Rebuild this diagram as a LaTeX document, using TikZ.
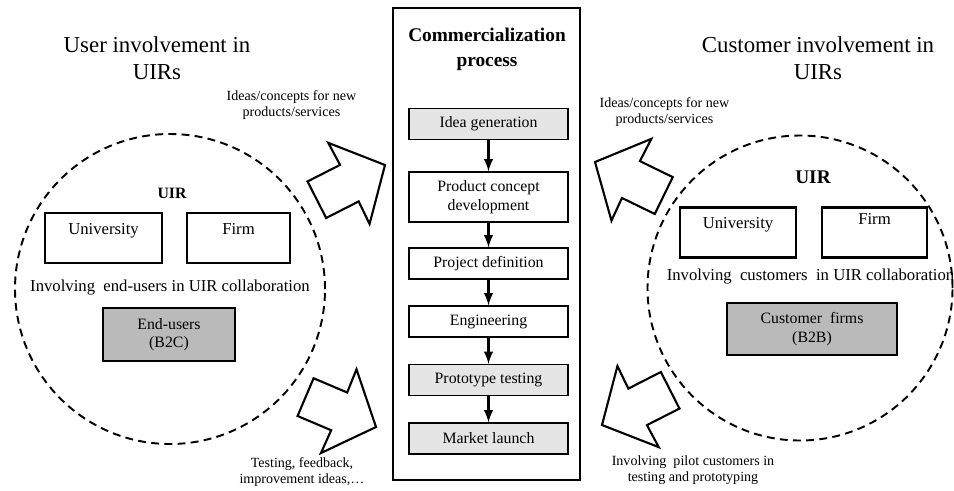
\documentclass[tikz,border=0pt]{standalone}
\usepackage{fontspec}
\setmainfont{Liberation Serif}

\tikzset{
  bigarrow/.pic={
    \draw[line width=1.2pt,line join=miter,fill=white]
      (0,0) -- (-0.81,0.91) -- (-0.8,0.41) -- (-1.53,0.41)
      -- (-1.53,-0.41) -- (-0.8,-0.41) -- (-0.81,-0.91) -- cycle;
  }
}

\begin{document}
\begin{tikzpicture}[
    stepbox/.style={draw,line width=0.6pt,minimum width=3.18cm,minimum height=0.62cm,
      align=center,font=\fontsize{9}{11}\selectfont},
    partner/.style={draw,line width=1.6pt,minimum height=1cm,inner sep=0.1cm,
      text height=0.32cm,text depth=0.48cm,font=\fontsize{9.5}{11}\selectfont},
    usergroup/.style={draw,line width=1.6pt,fill=black!27,align=center,
      font=\fontsize{9}{10.5}\selectfont},
    side/.style={align=center,font=\fontsize{13}{15.4}\selectfont},
    flow/.style={align=center,font=\fontsize{8}{9.2}\selectfont},
    uir/.style={line width=1.1pt,dash pattern=on 4.5pt off 3pt}
  ]
  \useasboundingbox (0,0) rectangle (19.08,9.8);

  % commercialization process
  \node[draw,line width=1.6pt,minimum width=3.74cm,minimum height=9.44cm] (proc) at (9.73,4.92) {};
  \node[align=center,font=\fontsize{11}{14.2}\selectfont\bfseries] (proctitle) at (9.74,8.81) {Commercialization\\process};

  \node[stepbox,fill=black!10] (idea) at (9.77,7.32) {Idea generation};
  \node[stepbox,minimum height=1cm] (concept) at (9.77,5.86) {Product concept\\development};
  \node[stepbox] (projdef) at (9.77,4.53) {Project definition};
  \node[stepbox] (eng) at (9.77,3.37) {Engineering};
  \node[stepbox,fill=black!10] (proto) at (9.77,2.2) {Prototype testing};
  \node[stepbox,fill=black!10] (launch) at (9.77,1.03) {Market launch};
  \foreach \a/\b in {idea/concept,concept/projdef,projdef/eng,eng/proto,proto/launch}
    \draw[-latex,line width=1.4pt] (\a) -- (\b);

  % user involvement (left)
  \node[side] (usertitle) at (3.14,8.63) {User involvement in\\UIRs};
  \draw[uir] (3.4,4.02) circle (3.1);
  \node[font=\fontsize{9}{11}\selectfont\bfseries] (uirL) at (3.44,5.94) {UIR};
  \node[partner,minimum width=2.34cm] (uniL) at (2.07,5.04) {University};
  \node[partner,minimum width=2.06cm] (firmL) at (4.77,5.04) {Firm};
  \node[font=\fontsize{9.5}{11}\selectfont] (involveL) at (3.4,4.04) {Involving\ \ end-users\ in\ UIR\ collaboration};
  \node[usergroup,minimum width=2.64cm,minimum height=1.06cm] (endusers) at (3.38,3.11) {End-users\\(B2C)};

  \node[flow] (ideasL) at (5.83,7.7) {Ideas/concepts for new\\products/services};
  \node[flow] (testL) at (6.04,0.36) {Testing, feedback,\\improvement ideas,\dots};
  \pic[rotate=27] at (7.7,6.5) {bigarrow};
  \pic[rotate=-23] at (7.52,1.26) {bigarrow};

  % customer involvement (right)
  \node[side] (custtitle) at (16.36,8.63) {Customer involvement in\\UIRs};
  \draw[uir] (16,4.04) circle (3.05);
  \node[font=\fontsize{11}{13}\selectfont\bfseries] (uirR) at (16.26,6.26) {UIR};
  \node[partner,minimum width=2.32cm] (uniR) at (14.76,5.15) {University};
  \node[partner,minimum width=2.1cm,text height=0.24cm,text depth=0.56cm] (firmR) at (17.49,5.15) {Firm};
  \node[font=\fontsize{9.5}{11}\selectfont] (involveR) at (16.21,4.26) {Involving\ \ customers\ \ in UIR\ collaboration};
  \node[usergroup,minimum width=3.4cm,minimum height=1.04cm] (custfirms) at (16.24,3.22) {Customer\ \ firms\\(B2B)};

  \node[flow] (ideasR) at (13.29,7.56) {Ideas/concepts for new\\products/services};
  \node[flow] (pilotR) at (13.86,0.39) {Involving\ \ pilot customers in\\testing and prototyping};
  \pic[rotate=154] at (11.9,6.56) {bigarrow};
  \pic[rotate=207] at (12.04,1.3) {bigarrow};
\end{tikzpicture}
\end{document}
